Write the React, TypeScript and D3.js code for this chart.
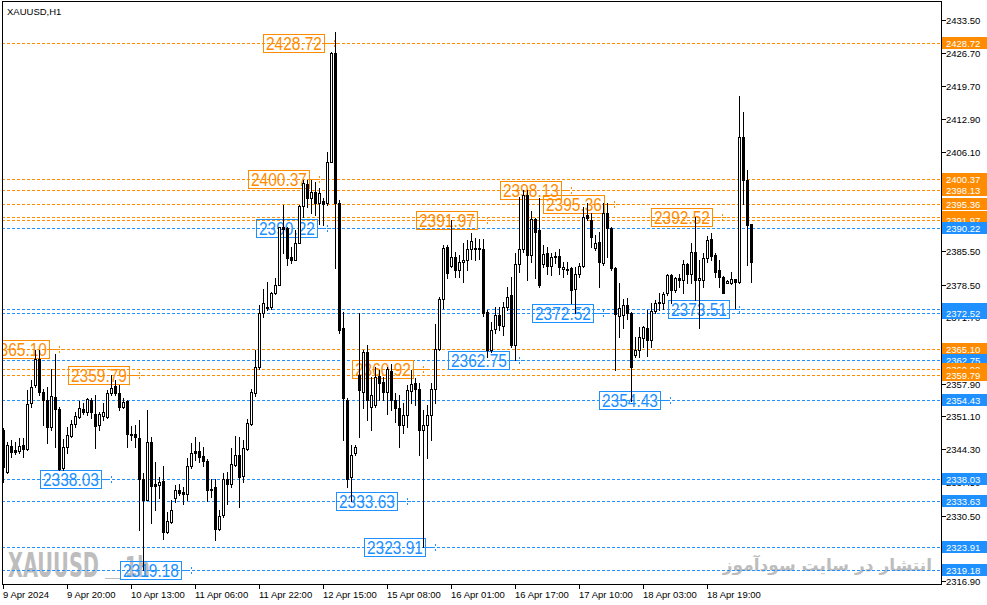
import React from "react";
import * as d3 from "d3";

// ---- OHLC data (XAUUSD H1), index 0 = 9 Apr 2024 04:00 ----
const opens = [
  2348.3, 2339.6, 2344.95, 2344.1, 2344.0, 2345.15, 2344.25, 2353.8, 2357.6, 2362.96,
  2356.2, 2354.5, 2348.96, 2355.1, 2352.6, 2340.3, 2344.8, 2347.0, 2349.45, 2350.9,
  2352.6, 2352.1, 2354.6, 2351.7, 2349.3, 2351.2, 2351.05, 2355.9, 2357.4, 2356.0,
  2353.1, 2354.3, 2347.4, 2347.4, 2346.7, 2338.2, 2333.7, 2345.8, 2337.0, 2336.8,
  2337.7, 2327.1, 2329.2, 2334.1, 2335.8, 2335.3, 2334.9, 2340.7, 2343.9, 2343.9,
  2342.9, 2341.8, 2336.1, 2336.5, 2327.8, 2330.6, 2338.2, 2337.0, 2341.1, 2343.1,
  2338.7, 2344.3, 2349.5, 2356.0, 2361.3, 2372.65, 2373.9, 2373.8, 2376.7, 2378.4,
  2390.4, 2390.2, 2384.3, 2383.7, 2387.2, 2394.8, 2399.5, 2396.4, 2397.8, 2395.4,
  2395.9, 2395.4, 2404.05, 2426.6, 2395.4, 2369.4, 2354.6, 2338.6, 2343.4, 2359.7,
  2356.2, 2364.55, 2352.98, 2353.5, 2359.5, 2358.3, 2356.2, 2360.5, 2354.5, 2352.8,
  2349.3, 2351.4, 2356.4, 2357.97, 2356.9, 2348.3, 2349.3, 2351.4, 2356.9, 2365.2,
  2375.6, 2386.4, 2382.4, 2384.3, 2381.5, 2383.3, 2383.6, 2385.8, 2386.1, 2385.8,
  2386.0, 2372.9, 2364.9, 2369.2, 2372.2, 2369.9, 2373.9, 2376.3, 2365.9, 2382.7,
  2385.8, 2397.1, 2384.6, 2392.1, 2389.8, 2382.7, 2385.0, 2382.4, 2384.4, 2384.4,
  2381.7, 2381.8, 2381.9, 2377.5, 2380.8, 2382.4, 2392.96, 2391.9, 2386.2, 2387.4,
  2382.9, 2393.3, 2390.2, 2381.9, 2372.0, 2372.2, 2374.3, 2372.5, 2363.9, 2365.0,
  2367.5, 2369.4, 2367.0, 2373.0, 2374.6, 2374.7, 2376.7, 2380.5, 2377.4, 2379.8,
  2379.45, 2382.8, 2380.7, 2385.2, 2379.45, 2379.45, 2383.95, 2387.9, 2384.65, 2381.5,
  2380.1, 2378.9, 2378.9, 2379.6, 2379.1, 2409.1, 2400.2, 2391.1,
];
const highs = [
  2348.6, 2345.8, 2346.2, 2345.8, 2346.7, 2346.7, 2356.7, 2358.7, 2364.9, 2364.9,
  2356.9, 2357.3, 2360.9, 2364.1, 2353.1, 2346.5, 2348.96, 2350.4, 2352.1, 2354.4,
  2353.8, 2354.9, 2354.9, 2355.5, 2352.1, 2353.8, 2356.6, 2359.7, 2358.7, 2357.6,
  2354.9, 2354.5, 2349.1, 2349.3, 2350.4, 2339.3, 2352.4, 2346.9, 2341.7, 2338.6,
  2340.8, 2331.3, 2333.7, 2336.8, 2337.1, 2336.5, 2342.4, 2345.5, 2346.9, 2345.8,
  2344.8, 2342.2, 2338.2, 2338.2, 2331.6, 2339.3, 2339.6, 2344.5, 2347.0, 2346.9,
  2346.2, 2350.5, 2356.8, 2364.9, 2374.3, 2377.5, 2379.1, 2377.0, 2379.8, 2390.5,
  2395.0, 2390.5, 2386.4, 2389.8, 2395.0, 2400.2, 2400.2, 2400.2, 2399.9, 2398.5,
  2396.4, 2406.1, 2426.9, 2431.1, 2396.0, 2372.9, 2355.0, 2345.1, 2345.1, 2372.5,
  2364.9, 2365.9, 2359.3, 2361.4, 2360.7, 2359.4, 2361.4, 2362.1, 2355.9, 2355.5,
  2353.8, 2357.6, 2360.7, 2359.0, 2357.97, 2352.4, 2353.5, 2358.0, 2370.4, 2376.0,
  2386.7, 2386.7, 2391.9, 2385.3, 2384.6, 2387.1, 2387.8, 2389.2, 2388.1, 2387.9,
  2387.9, 2373.2, 2370.8, 2373.9, 2373.9, 2374.95, 2378.1, 2380.1, 2385.0, 2396.8,
  2398.2, 2398.2, 2393.7, 2392.3, 2396.4, 2386.7, 2386.4, 2385.0, 2385.3, 2386.0,
  2383.3, 2383.3, 2382.2, 2382.2, 2382.9, 2394.7, 2395.4, 2393.3, 2388.8, 2389.5,
  2395.4, 2395.4, 2390.5, 2382.2, 2378.8, 2375.5, 2375.7, 2372.9, 2367.7, 2369.75,
  2369.9, 2373.2, 2374.7, 2375.3, 2376.7, 2377.0, 2380.8, 2380.8, 2380.1, 2380.8,
  2383.6, 2382.9, 2387.2, 2392.6, 2383.6, 2385.0, 2388.6, 2389.15, 2385.0, 2383.6,
  2380.3, 2379.45, 2381.2, 2379.6, 2417.7, 2414.45, 2402.3, 2391.2,
];
const lows = [
  2337.5, 2339.3, 2342.7, 2343.3, 2343.4, 2342.6, 2344.1, 2353.1, 2357.3, 2355.5,
  2349.3, 2345.5, 2348.3, 2344.8, 2340.0, 2340.0, 2343.6, 2346.9, 2348.96, 2350.7,
  2351.7, 2351.4, 2350.7, 2344.5, 2348.3, 2350.4, 2350.7, 2355.5, 2355.5, 2352.4,
  2352.8, 2344.8, 2346.2, 2344.8, 2327.5, 2319.2, 2333.7, 2328.9, 2331.7, 2334.1,
  2325.7, 2326.8, 2329.0, 2333.4, 2334.8, 2333.0, 2333.7, 2340.3, 2342.0, 2341.7,
  2340.7, 2333.6, 2334.4, 2325.5, 2327.6, 2330.3, 2333.0, 2336.5, 2340.7, 2332.3,
  2337.5, 2344.1, 2349.3, 2355.3, 2360.9, 2371.8, 2373.3, 2373.5, 2376.5, 2378.4,
  2385.0, 2382.6, 2382.9, 2383.6, 2387.1, 2392.6, 2394.7, 2393.3, 2393.0, 2391.2,
  2390.9, 2395.0, 2404.05, 2381.9, 2368.5, 2346.2, 2336.5, 2333.6, 2343.1, 2346.9,
  2352.8, 2350.3, 2348.3, 2353.1, 2354.5, 2354.5, 2351.7, 2352.4, 2350.0, 2344.8,
  2347.6, 2348.96, 2353.8, 2353.5, 2343.1, 2323.9, 2342.4, 2346.2, 2353.8, 2364.9,
  2373.6, 2379.8, 2382.2, 2380.1, 2380.1, 2379.1, 2381.5, 2383.9, 2383.6, 2383.9,
  2372.0, 2363.5, 2364.55, 2368.4, 2369.06, 2368.0, 2373.2, 2365.5, 2362.8, 2381.2,
  2385.3, 2379.4, 2383.3, 2379.8, 2378.0, 2382.2, 2380.8, 2380.5, 2382.9, 2380.8,
  2380.1, 2380.8, 2374.6, 2372.5, 2380.1, 2382.2, 2391.9, 2386.4, 2385.7, 2378.1,
  2382.6, 2384.3, 2381.5, 2360.7, 2367.7, 2369.5, 2371.4, 2354.4, 2363.5, 2363.5,
  2365.6, 2363.65, 2365.6, 2372.5, 2373.2, 2373.35, 2376.3, 2374.6, 2377.0, 2378.1,
  2376.7, 2378.8, 2378.8, 2375.3, 2369.4, 2378.1, 2383.3, 2383.6, 2380.1, 2378.1,
  2376.7, 2378.8, 2378.6, 2373.6, 2378.8, 2395.25, 2382.6, 2379.1,
];
const closes = [
  2340.6, 2345.1, 2343.8, 2343.8, 2344.95, 2344.25, 2353.7, 2357.3, 2362.96, 2356.2,
  2354.5, 2348.96, 2355.3, 2352.6, 2340.1, 2344.8, 2347.2, 2349.45, 2351.2, 2352.8,
  2352.1, 2354.7, 2352.1, 2349.1, 2351.7, 2352.1, 2356.0, 2357.1, 2356.0, 2353.0,
  2354.2, 2347.4, 2347.2, 2346.9, 2338.2, 2333.7, 2345.8, 2336.7, 2336.6, 2337.5,
  2327.1, 2329.4, 2331.6, 2335.8, 2335.2, 2334.9, 2340.7, 2343.6, 2343.6, 2342.7,
  2341.8, 2335.8, 2335.9, 2327.8, 2330.5, 2338.2, 2337.0, 2341.2, 2343.1, 2338.6,
  2344.5, 2349.7, 2356.1, 2361.3, 2372.5, 2374.6, 2373.6, 2376.7, 2378.4, 2390.4,
  2390.1, 2384.0, 2383.7, 2387.2, 2394.8, 2399.7, 2396.4, 2397.8, 2395.4, 2397.6,
  2395.3, 2404.05, 2426.6, 2395.4, 2369.1, 2354.85, 2338.2, 2343.1, 2344.8, 2356.6,
  2364.55, 2354.5, 2355.5, 2359.35, 2357.97, 2356.2, 2360.9, 2354.5, 2352.8, 2349.3,
  2351.4, 2356.7, 2357.8, 2356.9, 2348.3, 2349.3, 2351.4, 2356.9, 2365.2, 2375.6,
  2386.2, 2380.98, 2384.2, 2381.5, 2383.3, 2383.6, 2385.8, 2387.6, 2385.8, 2386.1,
  2372.5, 2364.9, 2369.06, 2372.2, 2370.1, 2373.9, 2376.0, 2365.9, 2382.7, 2385.8,
  2397.1, 2384.6, 2392.1, 2389.5, 2378.4, 2384.9, 2382.4, 2384.2, 2384.2, 2382.1,
  2382.1, 2381.5, 2377.4, 2380.8, 2382.4, 2392.6, 2392.3, 2388.5, 2387.1, 2383.3,
  2393.3, 2390.2, 2381.9, 2372.4, 2373.6, 2374.3, 2372.6, 2361.4, 2365.0, 2367.7,
  2369.75, 2367.0, 2373.0, 2374.7, 2374.85, 2376.5, 2380.5, 2377.4, 2379.8, 2379.45,
  2382.8, 2380.7, 2385.2, 2379.45, 2379.8, 2383.95, 2387.8, 2384.4, 2381.2, 2380.0,
  2376.8, 2379.2, 2379.6, 2379.1, 2409.1, 2400.2, 2390.9, 2383.3,
];

// ---- time axis ----
const timeTickBars = [0, 16, 32, 48, 64, 80, 96, 112, 128, 144, 160, 176];
const timeTickLabels = [
  "9 Apr 2024", "9 Apr 20:00", "10 Apr 13:00", "11 Apr 06:00", "11 Apr 22:00", "12 Apr 15:00",
  "15 Apr 08:00", "16 Apr 01:00", "16 Apr 17:00", "17 Apr 10:00", "18 Apr 03:00", "18 Apr 19:00",
];

// ---- price axis ----
const priceTicks = [
  2433.5, 2426.7, 2419.7, 2412.9, 2406.1, 2399.3, 2392.3, 2385.5, 2378.5, 2371.7,
  2364.9, 2357.9, 2351.1, 2344.3, 2337.5, 2330.5, 2323.7, 2316.9,
];

// ---- horizontal levels (drawing order) ----
const levelPrices = [
  2428.72, 2400.37, 2398.13, 2395.36, 2392.52, 2391.97, 2390.22, 2373.51, 2372.52,
  2365.10, 2362.75, 2360.92, 2359.79, 2354.43, 2338.03, 2333.63, 2323.91, 2319.18,
];
const levelIsResistance = [
  true, true, true, true, true, true, false, false, false,
  true, false, true, true, false, false, false, false, false,
];
const levelAnchorBar = [
  82.75, 79, 142, 152.75, 179.75, 121, 81, 184, 150,
  14, 129, 105, 34, 166.75, 27, 101, 108, 47,
];

const FONT = "'Liberation Sans', Arial, sans-serif";
const ORANGE = "#FF8C00";
const BLUE = "#1E90FF";

export default function App() {
  const W = 987;
  const H = 605;
  const plotL = 2;
  const plotR = 941;
  const plotT = 1;
  const plotB = 584;

  const x = d3.scaleLinear().domain([0, 187]).range([3, 751]);
  const y = d3.scaleLinear().domain([2316.9, 2433.5]).range([581, 20]);
  const py = (p: number) => Math.round(y(p));

  const candles = opens.map((o, i) => ({ o, h: highs[i], l: lows[i], c: closes[i], i }));

  return (
    <div style={{ position: "absolute", left: 0, top: 0 }}>
      <svg width={W} height={H} viewBox={`0 0 ${W} ${H}`} style={{ display: "block", background: "#fff" }}>
        <defs>
          <clipPath id="plotClip">
            <rect x={plotL + 1} y={plotT + 1} width={plotR - plotL - 1} height={plotB - plotT - 1} />
          </clipPath>
        </defs>
        <rect x={0} y={0} width={W} height={H} fill="#fff" />

        {/* watermarks */}
        <g fill="#BDBDBD" fontFamily="'Liberation Sans Narrow', 'DejaVu Sans Condensed', 'Liberation Sans', sans-serif" fontWeight="bold">
          <text x={8} y={577} fontSize={34} textLength={91} lengthAdjust="spacingAndGlyphs">XAUUSD</text>
          <text x={125} y={577} fontSize={28} textLength={25} lengthAdjust="spacingAndGlyphs">1h</text>
        </g>
        <line x1={105} x2={121} y1={578.5} y2={578.5} stroke="#BDBDBD" strokeWidth={1} />
        <text x={932} y={571} fontSize={17} fill="#BDBDBD" textAnchor="end" fontFamily="'DejaVu Sans', 'Noto Sans', sans-serif" fontWeight="bold">
          انتشار در سایت سودآموز
        </text>

        {/* title */}
        <text x={7} y={15} fontSize={9.5} fontFamily={FONT} fill="#000">XAUUSD,H1</text>

        <g clipPath="url(#plotClip)">
          {/* dashed level lines */}
          {levelPrices.map((p, k) => (
            <line key={"lv" + k} x1={plotL} x2={plotR} y1={py(p) + 0.5} y2={py(p) + 0.5}
              stroke={levelIsResistance[k] ? ORANGE : BLUE} strokeWidth={1} strokeDasharray="3,2" shapeRendering="crispEdges" />
          ))}
          {/* in-chart price labels */}
          {levelPrices.map((p, k) => {
            const col = levelIsResistance[k] ? ORANGE : BLUE;
            const mx = Math.round(x(levelAnchorBar[k]));
            const ly = py(p);
            const bx = mx - 10 - 61;
            return (
              <g key={"lb" + k}>
                <rect x={bx + 0.5} y={ly - 9 + 0.5} width={61} height={18} fill="none" stroke={col} strokeWidth={1} shapeRendering="crispEdges" />
                <text x={bx + 31} y={ly + 6.5} fontSize={18} fontFamily={FONT} fill={col} textAnchor="middle" textLength={56} lengthAdjust="spacingAndGlyphs">
                  {p.toFixed(2)}
                </text>
                <line x1={bx + 61} x2={mx - 3} y1={ly + 0.5} y2={ly + 0.5} stroke={col} strokeWidth={1} shapeRendering="crispEdges" />
                <g stroke={col} strokeWidth={1.2} shapeRendering="crispEdges">
                  <line x1={mx - 3} x2={mx - 1} y1={ly + 0.5} y2={ly + 0.5} />
                  <line x1={mx + 2} x2={mx + 4} y1={ly + 0.5} y2={ly + 0.5} />
                  <line x1={mx + 0.5} x2={mx + 0.5} y1={ly - 3} y2={ly - 1} />
                  <line x1={mx + 0.5} x2={mx + 0.5} y1={ly + 2} y2={ly + 4} />
                </g>
              </g>
            );
          })}

          {/* candles */}
          {candles.map((d) => {
            const cx = Math.round(x(d.i));
            const top = py(Math.max(d.o, d.c));
            const bot = py(Math.min(d.o, d.c));
            const bull = d.c >= d.o;
            return (
              <g key={"c" + d.i} shapeRendering="crispEdges">
                <line x1={cx + 0.5} x2={cx + 0.5} y1={py(d.h)} y2={py(d.l) + 1} stroke="#000" strokeWidth={1} />
                {bull ? (
                  <rect x={cx - 0.5} y={top + 0.5} width={2} height={Math.max(bot - top, 0.01)} fill="#fff" stroke="#000" strokeWidth={1} />
                ) : (
                  <rect x={cx - 1} y={top} width={3} height={Math.max(bot - top + 1, 1)} fill="#000" />
                )}
              </g>
            );
          })}
        </g>

        {/* frame */}
        <g stroke="#000" strokeWidth={1} shapeRendering="crispEdges">
          <line x1={plotL + 0.5} x2={plotL + 0.5} y1={plotT} y2={plotB + 1} />
          <line x1={plotL} x2={plotR + 1} y1={plotT + 0.5} y2={plotT + 0.5} />
          <line x1={plotL} x2={plotR + 1} y1={plotB + 0.5} y2={plotB + 0.5} />
          <line x1={plotR + 0.5} x2={plotR + 0.5} y1={plotT} y2={plotB + 1} />
        </g>

        {/* price axis */}
        {priceTicks.map((p, k) => (
          <g key={"pt" + k}>
            <line x1={plotR + 1} x2={plotR + 5} y1={py(p) + 0.5} y2={py(p) + 0.5} stroke="#000" shapeRendering="crispEdges" />
            <text x={946} y={py(p) + 4} fontSize={9.5} fontFamily={FONT} fill="#000">{p.toFixed(2)}</text>
          </g>
        ))}
        {levelPrices.map((p, k) => (
          <g key={"ab" + k}>
            <rect x={942} y={py(p) - 6} width={45} height={12} fill={levelIsResistance[k] ? ORANGE : BLUE} />
            <text x={946} y={py(p) + 4} fontSize={9.5} fontFamily={FONT} fill="#fff">{p.toFixed(2)}</text>
          </g>
        ))}

        {/* time axis */}
        {timeTickBars.map((b, k) => {
          const tx = Math.round(x(b));
          return (
            <g key={"tt" + k}>
              <line x1={tx + 0.5} x2={tx + 0.5} y1={plotB + 1} y2={plotB + 5} stroke="#000" shapeRendering="crispEdges" />
              <text x={tx} y={598} fontSize={9.5} fontFamily={FONT} fill="#000">{timeTickLabels[k]}</text>
            </g>
          );
        })}
      </svg>
    </div>
  );
}
